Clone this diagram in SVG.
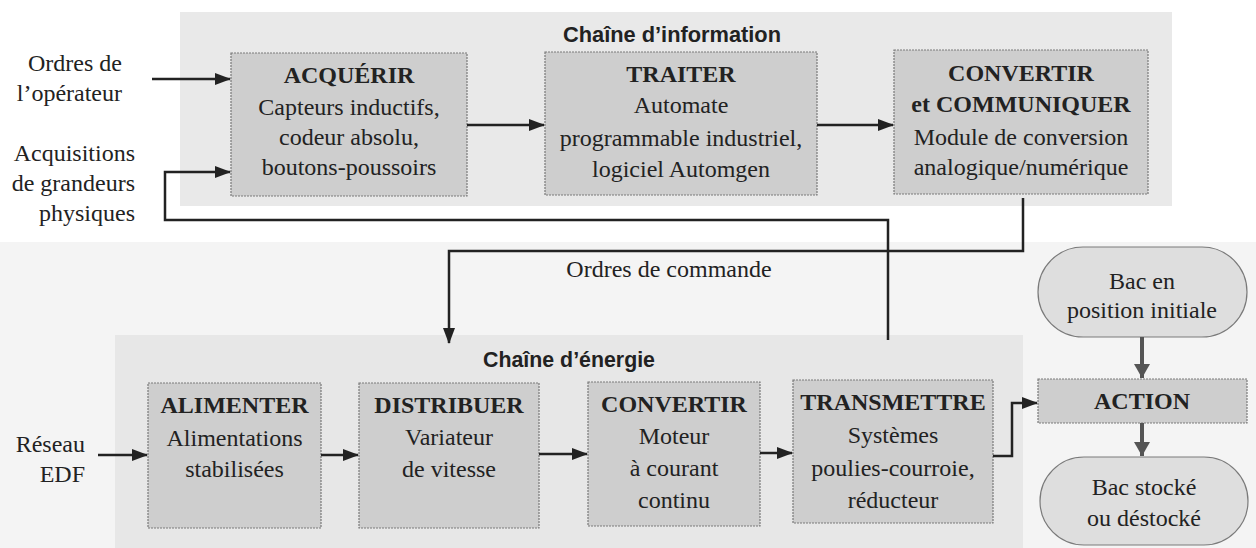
<svg xmlns="http://www.w3.org/2000/svg" width="1256" height="548" viewBox="0 0 1256 548">
<defs>
<marker id="ah" markerUnits="userSpaceOnUse" markerWidth="16" markerHeight="12" refX="15" refY="6" orient="auto">
<path d="M0,0 L16,6 L0,12 z" fill="#222"/>
</marker>
<marker id="ah2" markerUnits="userSpaceOnUse" markerWidth="14" markerHeight="16" refX="14" refY="8" orient="auto">
<path d="M0,0 L14,8 L0,16 z" fill="#555"/>
</marker>
</defs>
<style>
.t{font-family:"Liberation Serif","Times New Roman",serif;font-size:24px;fill:#222;text-anchor:middle}
.b{font-weight:bold}
.l{text-anchor:end}
.ch{font-family:"Liberation Sans",Arial,sans-serif;font-size:22px;font-weight:bold;fill:#222}
.box{fill:#cecece;stroke:#7a7a7a;stroke-width:1.2;stroke-dasharray:2 1}
.pill{fill:#dedede;stroke:#7a7a7a;stroke-width:1.2}
.c{fill:none;stroke:#222;stroke-width:2.5}
.c2{fill:none;stroke:#555;stroke-width:4}
</style>
<rect x="0" y="0" width="1256" height="548" fill="#ffffff"/>
<rect x="0" y="242" width="1256" height="306" fill="#f4f4f4"/>
<g id="chaine-information">
<rect x="180" y="12" width="992" height="194" fill="#e9e9e9"/>
<text class="ch" x="563" y="42" textLength="218" lengthAdjust="spacingAndGlyphs">Chaîne d’information</text>
</g>
<g id="chaine-energie">
<rect x="115" y="335" width="908" height="213" fill="#e7e7e7"/>
<text class="ch" x="483" y="367" textLength="172" lengthAdjust="spacingAndGlyphs">Chaîne d’énergie</text>
</g>
<g id="label-ordres-operateur">
<text class="t l" x="122" y="71">Ordres de</text>
<text class="t l" x="122" y="101">l’opérateur</text>
</g>
<g id="label-acquisitions">
<text class="t l" x="135" y="161">Acquisitions</text>
<text class="t l" x="135" y="191">de grandeurs</text>
<text class="t l" x="135" y="221">physiques</text>
</g>
<g id="label-reseau">
<text class="t l" x="85" y="452">Réseau</text>
<text class="t l" x="85" y="482">EDF</text>
</g>
<g id="label-ordres-commande">
<text class="t" x="669" y="277">Ordres de commande</text>
</g>
<g id="acquerir">
<rect class="box" x="231" y="53" width="236" height="143"/>
<text class="t b" x="349" y="83">ACQUÉRIR</text>
<text class="t" x="349" y="115">Capteurs inductifs,</text>
<text class="t" x="349" y="145">codeur absolu,</text>
<text class="t" x="349" y="175">boutons-poussoirs</text>
</g>
<g id="traiter">
<rect class="box" x="545" y="52" width="272" height="143"/>
<text class="t b" x="681" y="82">TRAITER</text>
<text class="t" x="681" y="113">Automate</text>
<text class="t" x="681" y="146">programmable industriel,</text>
<text class="t" x="681" y="177">logiciel Automgen</text>
</g>
<g id="convertir-communiquer">
<rect class="box" x="894" y="50" width="254" height="144"/>
<text class="t b" x="1021" y="81">CONVERTIR</text>
<text class="t b" x="1021" y="112">et COMMUNIQUER</text>
<text class="t" x="1021" y="145">Module de conversion</text>
<text class="t" x="1021" y="175">analogique/numérique</text>
</g>
<g id="alimenter">
<rect class="box" x="148" y="383" width="173" height="145"/>
<text class="t b" x="234.5" y="413">ALIMENTER</text>
<text class="t" x="234.5" y="446">Alimentations</text>
<text class="t" x="234.5" y="477">stabilisées</text>
</g>
<g id="distribuer">
<rect class="box" x="359" y="383" width="180" height="145"/>
<text class="t b" x="449" y="413">DISTRIBUER</text>
<text class="t" x="449" y="445">Variateur</text>
<text class="t" x="449" y="477">de vitesse</text>
</g>
<g id="convertir">
<rect class="box" x="588" y="382" width="172" height="144"/>
<text class="t b" x="674" y="412">CONVERTIR</text>
<text class="t" x="674" y="444">Moteur</text>
<text class="t" x="674" y="476">à courant</text>
<text class="t" x="674" y="508">continu</text>
</g>
<g id="transmettre">
<rect class="box" x="793" y="380" width="200" height="143"/>
<text class="t b" x="893" y="410">TRANSMETTRE</text>
<text class="t" x="893" y="443">Systèmes</text>
<text class="t" x="893" y="476">poulies-courroie,</text>
<text class="t" x="893" y="508">réducteur</text>
</g>
<g id="bac-initial">
<rect class="pill" x="1038" y="247" width="209" height="90" rx="45" ry="45"/>
<text class="t" x="1142" y="289">Bac en</text>
<text class="t" x="1142" y="318">position initiale</text>
</g>
<g id="action">
<rect class="box" x="1038" y="379" width="209" height="44" fill="#c8c8c8"/>
<text class="t b" x="1142" y="409">ACTION</text>
</g>
<g id="bac-stocke">
<rect class="pill" x="1040" y="457" width="208" height="88" rx="44" ry="44"/>
<text class="t" x="1144" y="495">Bac stocké</text>
<text class="t" x="1144" y="526">ou déstocké</text>
</g>
<g id="connecteurs">
<path class="c" d="M152,79 H230" marker-end="url(#ah)"/>
<path class="c" d="M888,340 V220 H165 V172 H230" marker-end="url(#ah)"/>
<path class="c" d="M467,125 H544" marker-end="url(#ah)"/>
<path class="c" d="M817,125 H893" marker-end="url(#ah)"/>
<path class="c" d="M1023,198 V251 H449 V343" marker-end="url(#ah)"/>
<path class="c" d="M98,455 H147" marker-end="url(#ah)"/>
<path class="c" d="M321,455 H358" marker-end="url(#ah)"/>
<path class="c" d="M539,454 H587" marker-end="url(#ah)"/>
<path class="c" d="M760,453 H792" marker-end="url(#ah)"/>
<path class="c" d="M993,456 H1012 V403 H1037" marker-end="url(#ah)"/>
<path class="c2" d="M1142,337 V378" marker-end="url(#ah2)"/>
<path class="c2" d="M1142,423 V456" marker-end="url(#ah2)"/>
</g>
</svg>
